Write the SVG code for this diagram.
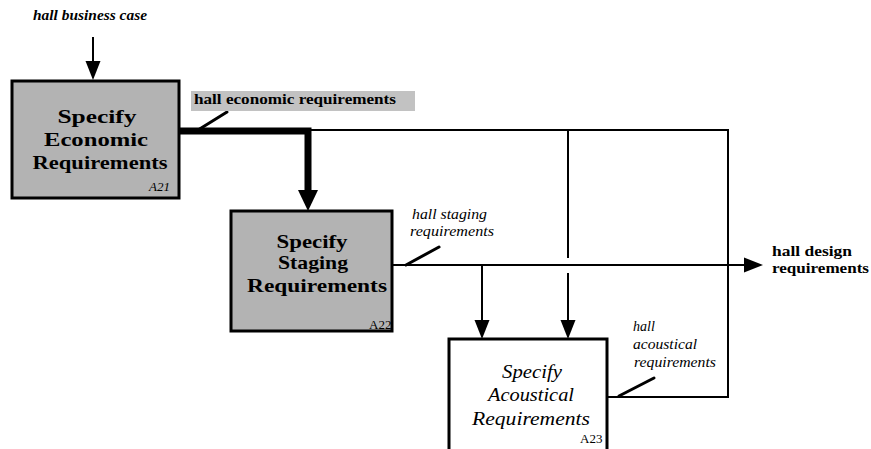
<svg xmlns="http://www.w3.org/2000/svg" width="871" height="449" viewBox="0 0 871 449">
  <defs>
    <marker id="arrow" markerUnits="userSpaceOnUse" markerWidth="20" markerHeight="16" refX="0" refY="7.5" orient="auto" overflow="visible">
      <path d="M0,0 L19,7.5 L0,15 Z" fill="#000"/>
    </marker>
    <marker id="arrowBig" markerUnits="userSpaceOnUse" markerWidth="22" markerHeight="20" refX="0" refY="10" orient="auto" overflow="visible">
      <path d="M0,0 L21,10 L0,20 Z" fill="#000"/>
    </marker>
  </defs>
  <style>
    .box { stroke: #000; stroke-width: 3; }
    .shaded { fill: #b3b3b3; }
    .plain { fill: #fff; }
    .title { font-family: "Liberation Serif", "DejaVu Serif", serif; font-size: 19px; text-anchor: middle; fill: #000; }
    .bold { font-weight: bold; }
    .ital { font-style: italic; }
    .code { font-family: "Liberation Serif", "DejaVu Serif", serif; font-size: 13px; fill: #000; }
    .label { font-family: "Liberation Serif", "DejaVu Serif", serif; font-size: 14px; fill: #000; }
    .wire { fill: none; stroke: #000; stroke-width: 2; }
    .heavy { fill: none; stroke: #000; stroke-width: 7; }
    .tick { stroke: #000; stroke-width: 3; stroke-linecap: round; }
  </style>

  <rect width="871" height="449" fill="#fff"/>

  <!-- connectors -->
  <g id="connectors">
    <!-- hall business case into A21 -->
    <line class="wire" x1="93" y1="37" x2="93" y2="61" stroke-width="3" marker-end="url(#arrow)"/>
    <!-- hall economic requirements: heavy run to A22 -->
    <path class="heavy" d="M179,131 H308 V190" marker-end="url(#arrowBig)"/>
    <!-- economic requirements branch across and down -->
    <path class="wire" d="M308,130 H728 V397 H607"/>
    <line class="wire" x1="568" y1="130" x2="568" y2="258"/>
    <line class="wire" x1="568" y1="273" x2="568" y2="320" marker-end="url(#arrow)"/>
    <!-- hall staging requirements to output and A23 -->
    <line class="wire" x1="392" y1="265" x2="744" y2="265" marker-end="url(#arrow)"/>
    <line class="wire" x1="482" y1="265" x2="482" y2="320" marker-end="url(#arrow)"/>
    <!-- label leaders -->
    <line class="tick" x1="198" y1="130" x2="227" y2="112"/>
    <line class="tick" x1="406" y1="265" x2="439" y2="247"/>
    <line class="tick" x1="619" y1="396" x2="654" y2="378"/>
  </g>

  <!-- connector labels -->
  <g id="labels">
    <text class="label ital bold" x="33" y="20" textLength="114" lengthAdjust="spacingAndGlyphs">hall business case</text>
    <rect x="191" y="91" width="224" height="20" fill="#c2c2c2"/>
    <text class="label bold" x="194" y="104" textLength="202" lengthAdjust="spacingAndGlyphs">hall economic requirements</text>
    <text class="label ital" x="412" y="219" textLength="75" lengthAdjust="spacingAndGlyphs">hall staging</text>
    <text class="label ital" x="410" y="236" textLength="84" lengthAdjust="spacingAndGlyphs">requirements</text>
    <text class="label ital" x="633" y="331">hall</text>
    <text class="label ital" x="633" y="349" textLength="64" lengthAdjust="spacingAndGlyphs">acoustical</text>
    <text class="label ital" x="634" y="367" textLength="82" lengthAdjust="spacingAndGlyphs">requirements</text>
    <text class="label bold" x="772" y="256" textLength="80" lengthAdjust="spacingAndGlyphs">hall design</text>
    <text class="label bold" x="772" y="273" textLength="97" lengthAdjust="spacingAndGlyphs">requirements</text>
  </g>

  <!-- A21 -->
  <g id="A21">
    <rect class="box shaded" x="12" y="81" width="167" height="117"/>
    <text class="title bold" x="97" y="123" textLength="79" lengthAdjust="spacingAndGlyphs">Specify</text>
    <text class="title bold" x="96" y="146" textLength="104" lengthAdjust="spacingAndGlyphs">Economic</text>
    <text class="title bold" x="100" y="169" textLength="135" lengthAdjust="spacingAndGlyphs">Requirements</text>
    <text class="code ital" x="149" y="191">A21</text>
  </g>

  <!-- A22 -->
  <g id="A22">
    <rect class="box shaded" x="231" y="211" width="161" height="120"/>
    <text class="title bold" x="312" y="248" textLength="71" lengthAdjust="spacingAndGlyphs">Specify</text>
    <text class="title bold" x="313" y="269" textLength="70" lengthAdjust="spacingAndGlyphs">Staging</text>
    <text class="title bold" x="317" y="292" textLength="140" lengthAdjust="spacingAndGlyphs">Requirements</text>
    <text class="code" x="369" y="329">A22</text>
  </g>

  <!-- A23 -->
  <g id="A23">
    <rect class="box plain" x="449" y="339" width="158" height="115"/>
    <text class="title ital" x="532" y="378" textLength="60" lengthAdjust="spacingAndGlyphs">Specify</text>
    <text class="title ital" x="531" y="401" textLength="86" lengthAdjust="spacingAndGlyphs">Acoustical</text>
    <text class="title ital" x="531" y="425" textLength="118" lengthAdjust="spacingAndGlyphs">Requirements</text>
    <text class="code" x="580" y="443">A23</text>
  </g>
</svg>
